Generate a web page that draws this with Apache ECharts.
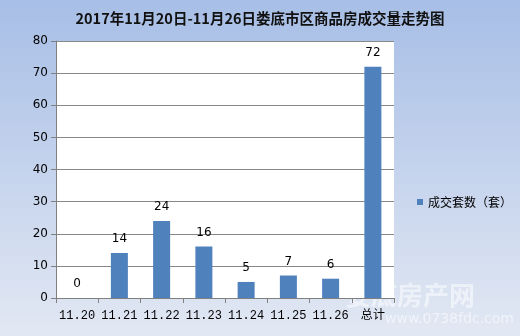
<!DOCTYPE html>
<html><head><meta charset="utf-8">
<script src="https://cdn.jsdelivr.net/npm/echarts@6/dist/echarts.min.js"></script>
<style>html,body{margin:0;padding:0;}#c{width:520px;height:336px;}</style>
</head><body><div id="c"></div>
<script>
const categories = ['11.20','11.21','11.22','11.23','11.24','11.25','11.26','总计'];
const seriesName = '成交套数（套）';
const values = [0,14,24,16,5,7,6,72];
const yTicks = [0,10,20,30,40,50,60,70,80];

const chart = echarts.init(document.getElementById('c'));
chart.setOption({
  backgroundColor: {type:'linear',x:0,y:0,x2:0,y2:1,colorStops:[{offset:0,color:'#a7bee6'},{offset:1,color:'#e2e8f3'}]},
  animation:false,
  title:{text:'2017年11月20日-11月26日娄底市区商品房成交量走势图',left:'center',top:6,
    textStyle:{fontFamily:'Noto Sans CJK SC',fontSize:14.5,fontWeight:'bold',color:'#111'}},
  grid:{left:56,top:41,width:338,height:257,backgroundColor:'#fff',show:true,borderWidth:0},
  legend:{data:[seriesName],left:412,top:191,itemWidth:6,itemHeight:6,itemGap:2,icon:'rect',
    textStyle:{fontFamily:'Noto Sans CJK SC',fontSize:12,color:'#000'}},
  xAxis:{type:'category',data:categories,
    axisLine:{lineStyle:{color:'#808080'}},
    axisTick:{show:true,length:5,lineStyle:{color:'#808080'}},
    axisLabel:{interval:0,fontFamily:'Liberation Mono, Noto Sans CJK SC',fontSize:12,color:'#000',margin:12}},
  yAxis:{type:'value',min:yTicks[0],max:yTicks[yTicks.length-1],interval:10,
    axisLine:{show:true,lineStyle:{color:'#808080'}},
    axisTick:{show:true,length:5,lineStyle:{color:'#808080'}},
    axisLabel:{fontFamily:'DejaVu Sans',fontSize:12,color:'#000',margin:8},
    splitLine:{show:true,lineStyle:{color:'#888',width:1}}},
  series:[{name:seriesName,type:'bar',data:values,barWidth:17,
    itemStyle:{color:'#4f81bd'},
    label:{show:true,position:'top',distance:8,fontFamily:'DejaVu Sans',fontSize:12,color:'#000'}}],
  graphic:[
    {type:'text',left:345,top:282,style:{text:'娄底房产网',font:'bold 26px "Noto Sans CJK SC"',fill:'rgba(255,255,255,0.5)'}},
    {type:'text',left:385,top:312,style:{text:'www.0738fdc.com',font:'14px "DejaVu Sans"',fill:'rgba(255,255,255,0.55)'}}
  ]
});
</script></body></html>
